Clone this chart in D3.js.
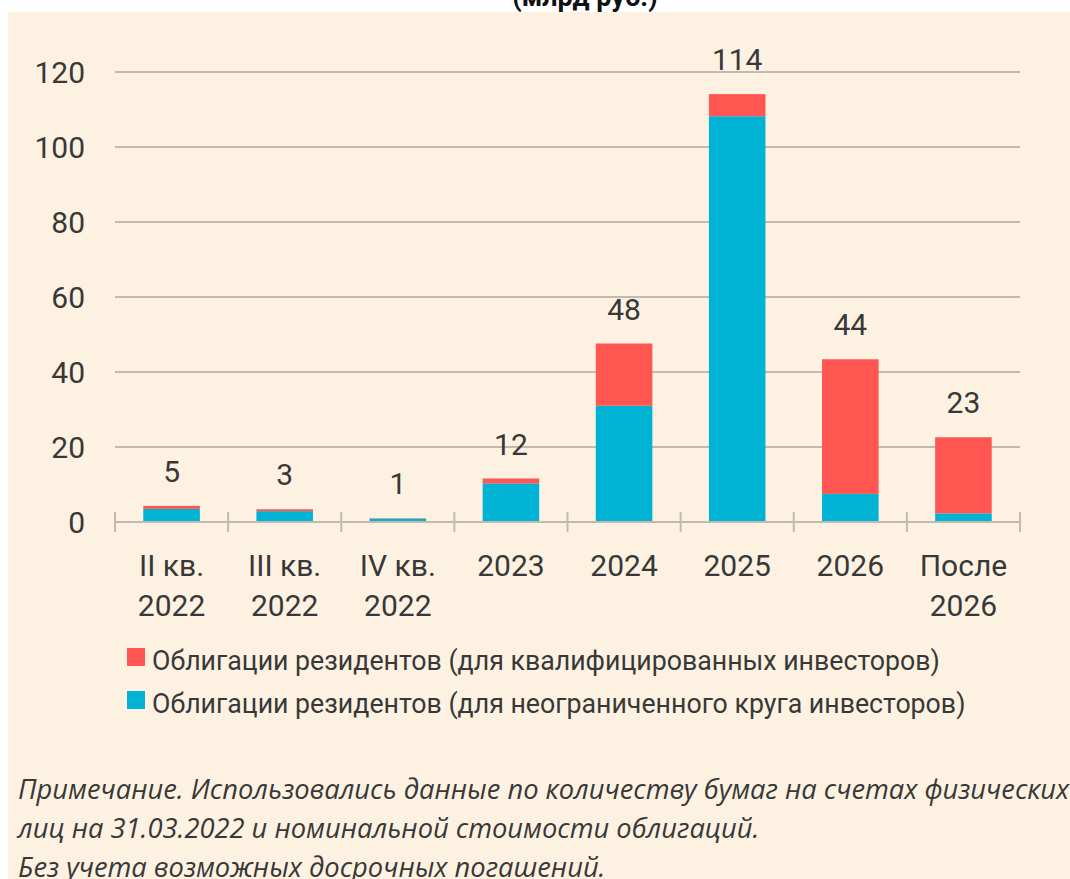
<!DOCTYPE html>
<html>
<head>
<meta charset="utf-8">
<script src="https://cdn.jsdelivr.net/npm/d3@7"></script>
<style>
  html, body { margin: 0; padding: 0; background: #ffffff; }
  svg { display: block; }
</style>
</head>
<body>
<svg id="chart" width="1070" height="879"></svg>
<script>
// ---- data ----
const categories = ["II кв.\n2022", "III кв.\n2022", "IV кв.\n2022", "2023", "2024", "2025", "2026", "После\n2026"];
const unrestricted = [3.5, 2.9, 0.9, 10.3, 31.0, 108.2, 7.5, 2.3];   // blue
const qualified    = [0.8, 0.5, 0.1, 1.3, 16.6, 5.9, 35.9, 20.3];    // red
const totalLabels  = ["5", "3", "1", "12", "48", "114", "44", "23"];
const yTicks = [0, 20, 40, 60, 80, 100, 120];
const seriesNames = [
  "Облигации резидентов (для квалифицированных инвесторов)",
  "Облигации резидентов (для неограниченного круга инвесторов)"
];
const titleText = "(млрд руб.)";
const noteLines = [
  "Примечание. Использовались данные по количеству бумаг на счетах физических",
  "лиц на 31.03.2022 и номинальной стоимости облигаций.",
  "Без учета возможных досрочных погашений."
];

// ---- styles ----
const RED = "#ff5652", BLUE = "#00b3d4", BG = "#fdf2e2", TXT = "#383838", GRID = "#c2bab0";
const FONT = "Roboto, 'Noto Sans', sans-serif";

const svg = d3.select("#chart");
svg.append("rect").attr("x", 0).attr("y", 0).attr("width", 1070).attr("height", 879).attr("fill", "#fff");

// cropped title at very top (cut by the picture edge, as in the source)
svg.append("text").attr("x", 585).attr("y", 6)
  .attr("text-anchor", "middle").attr("font-family", FONT).attr("font-weight", "bold")
  .attr("font-size", 27).attr("fill", "#111").text(titleText);

svg.append("rect").attr("x", 8).attr("y", 12).attr("width", 1062).attr("height", 867).attr("fill", BG);

const x = d3.scaleBand().domain(categories).range([115, 1020]).paddingInner(0.5).paddingOuter(0.25);
const y = d3.scaleLinear().domain([0, 120]).range([522, 72]);

// grid lines
svg.append("g").selectAll("line").data(yTicks.filter(d => d > 0)).join("line")
  .attr("x1", 115).attr("x2", 1020).attr("y1", d => y(d)).attr("y2", d => y(d))
  .attr("stroke", GRID).attr("stroke-width", 2);

// y labels
svg.append("g").selectAll("text").data(yTicks).join("text")
  .attr("x", 85).attr("y", d => y(d) + 11)
  .attr("text-anchor", "end").attr("font-family", FONT).attr("font-size", 30)
  .attr("fill", TXT).text(d => d);

// stacked bars
const stackData = categories.map((c, i) => ({ cat: c, blue: unrestricted[i], red: qualified[i] }));
const stack = d3.stack().keys(["blue", "red"])(stackData);
const colors = { blue: BLUE, red: RED };
svg.append("g").selectAll("g").data(stack).join("g")
  .attr("fill", d => colors[d.key])
  .selectAll("rect").data(d => d).join("rect")
  .attr("x", d => x(d.data.cat)).attr("width", x.bandwidth())
  .attr("y", d => y(d[1])).attr("height", d => y(d[0]) - y(d[1]));

// value labels
svg.append("g").selectAll("text").data(stackData).join("text")
  .attr("x", d => x(d.cat) + x.bandwidth() / 2)
  .attr("y", d => y(d.blue + d.red) - 24)
  .attr("text-anchor", "middle").attr("font-family", FONT).attr("font-size", 30)
  .attr("fill", TXT).text((d, i) => totalLabels[i]);

// x axis line and ticks
svg.append("line").attr("x1", 115).attr("x2", 1020).attr("y1", y(0)).attr("y2", y(0))
  .attr("stroke", GRID).attr("stroke-width", 2);
const step = x.step();
const boundaries = d3.range(categories.length + 1).map(i => x.range()[0] + i * step);
svg.append("g").selectAll("line").data(boundaries).join("line")
  .attr("x1", d => d).attr("x2", d => d).attr("y1", y(0) - 10).attr("y2", y(0) + 10)
  .attr("stroke", GRID).attr("stroke-width", 2);

// x labels
const xl = svg.append("g").selectAll("text").data(categories).join("text")
  .attr("text-anchor", "middle").attr("font-family", FONT).attr("font-size", 30).attr("fill", TXT);
xl.each(function (c) {
  const lines = c.split("\n");
  d3.select(this).selectAll("tspan").data(lines).join("tspan")
    .attr("x", x(c) + x.bandwidth() / 2)
    .attr("y", (l, j) => 576 + j * 40)
    .text(l => l);
});

// legend
const lg = svg.append("g").selectAll("g").data(seriesNames).join("g")
  .attr("transform", (d, i) => `translate(127, ${648 + i * 43})`);
lg.append("rect").attr("width", 18).attr("height", 18).attr("fill", (d, i) => i === 0 ? RED : BLUE);
lg.append("text").attr("transform", "translate(25,22) scale(0.955,1)")
  .attr("font-family", FONT).attr("font-size", 28)
  .attr("fill", TXT).text(d => d);

// note
svg.append("g").selectAll("text").data(noteLines).join("text")
  .attr("x", 18).attr("y", (d, i) => 799 + i * 39)
  .attr("font-family", "'Open Sans', sans-serif").attr("font-style", "italic").attr("font-size", 27.3)
  .attr("fill", TXT).text(d => d);
</script>
</body>
</html>
